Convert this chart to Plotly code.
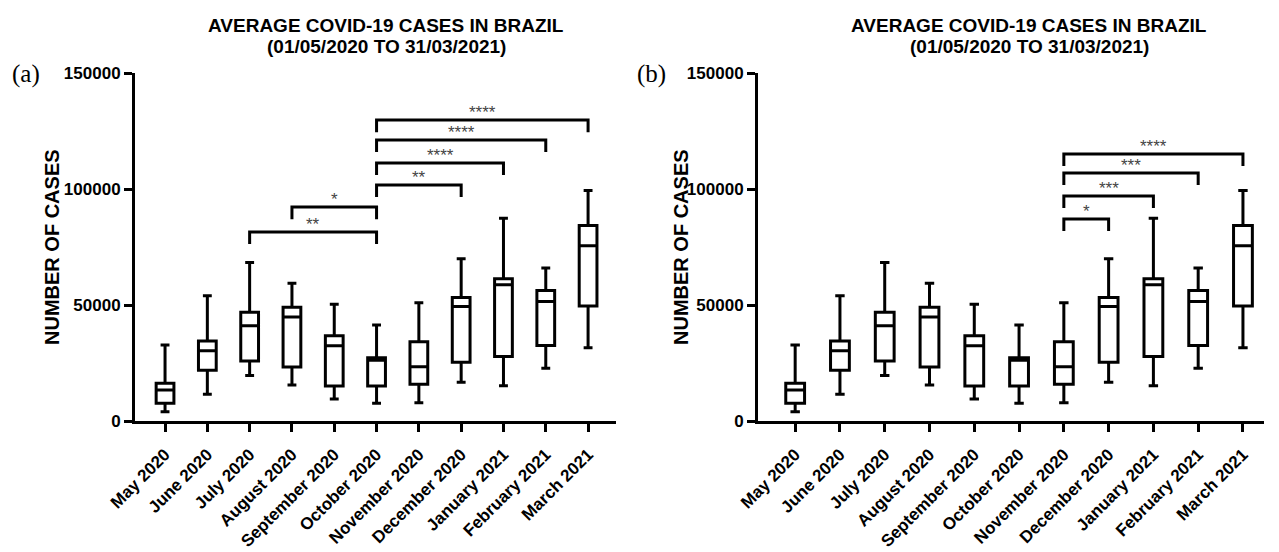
import plotly.graph_objects as go

# ---------------- data ----------------
months = ["May 2020", "June 2020", "July 2020", "August 2020", "September 2020",
          "October 2020", "November 2020", "December 2020", "January 2021",
          "February 2021", "March 2021"]
whisker_low = [4000, 11500, 19600, 15500, 9500, 7600, 7900, 16700, 15200, 22700, 31600]
q1_vals = [7600, 21900, 25900, 23300, 15100, 15100, 15800, 25300, 27800, 32500, 49600]
median_vals = [13400, 30300, 41100, 44800, 32400, 26200, 23400, 49300, 58700, 51500, 75500]
q3_vals = [16250, 34500, 46900, 49000, 36700, 27300, 34200, 53200, 61300, 56200, 84300]
whisker_high = [32800, 54000, 68300, 59400, 50300, 41400, 51000, 69900, 87400, 65900, 99400]

y_ticks = [0, 50000, 100000, 150000]
y_tick_text = ["0", "50000", "100000", "150000"]

# significance comparisons (panel a)
a_from = ["October 2020", "October 2020", "October 2020", "October 2020", "August 2020", "July 2020"]
a_to = ["March 2021", "February 2021", "January 2021", "December 2020", "October 2020", "October 2020"]
a_stars = ["****", "****", "****", "**", "*", "**"]
a_level = [129700, 121100, 111200, 101700, 92200, 81500]

# significance comparisons (panel b)
b_from = ["November 2020", "November 2020", "November 2020", "November 2020"]
b_to = ["March 2021", "February 2021", "January 2021", "December 2020"]
b_stars = ["****", "***", "***", "*"]
b_level = [115100, 106900, 97000, 87100]

title_l1 = "AVERAGE COVID-19 CASES IN BRAZIL"
title_l2 = "(01/05/2020 TO 31/03/2021)"
y_title = "NUMBER OF CASES"

# ---------------- figure ----------------
PAGE_W, PAGE_H = 1279, 552
OFF = 8                      # page body margin of the html page
W, H = PAGE_W - OFF, PAGE_H - OFF
FONT = "Arial, Liberation Sans, Helvetica, sans-serif"
DROP = 5200


def px_x(px):
    return (px - OFF) / W


def px_y(py):
    return 1 - (py - OFF) / H


fig = go.Figure()

for xa, ya in (("x", "y"), ("x2", "y2")):
    fig.add_trace(go.Box(
        x=months, q1=q1_vals, median=median_vals, q3=q3_vals,
        lowerfence=whisker_low, upperfence=whisker_high,
        xaxis=xa, yaxis=ya,
        fillcolor="white", line=dict(color="black", width=3),
        whiskerwidth=0.5, boxpoints=False, showlegend=False,
        hoverinfo="skip",
    ))


def add_brackets(froms, tos, stars, levels, xa, ya):
    for f, t, s, lv in zip(froms, tos, stars, levels):
        fig.add_trace(go.Scatter(
            x=[f, f, t, t], y=[lv - DROP, lv, lv, lv - DROP],
            mode="lines", line=dict(color="black", width=3),
            xaxis=xa, yaxis=ya, showlegend=False, hoverinfo="skip",
        ))
        mid = (months.index(f) + months.index(t)) / 2
        fig.add_annotation(
            x=mid, y=lv, xref=xa, yref=ya, text=s, showarrow=False,
            yanchor="bottom", yshift=-4,
            font=dict(family=FONT, size=17, color="#444"),
        )


add_brackets(a_from, a_to, a_stars, a_level, "x", "y")
add_brackets(b_from, b_to, b_stars, b_level, "x2", "y2")

ydom = [px_y(421), px_y(73)]
dom_a = [px_x(135), px_x(616)]
dom_b = [px_x(758), px_x(1264)]

axis_common = dict(
    showline=True, linecolor="black", linewidth=3, mirror=False,
    ticks="outside", ticklen=8, tickwidth=3, tickcolor="black",
    showgrid=False, zeroline=False, automargin=False,
    tickfont=dict(family=FONT, size=17, color="black", weight="bold"),
)

fig.update_layout(
    width=W, height=H, autosize=False,
    margin=dict(l=0, r=0, t=0, b=0, pad=0, autoexpand=False),
    paper_bgcolor="white", plot_bgcolor="white",
    boxgap=0.4,
    xaxis=dict(domain=dom_a, anchor="y", type="category", categoryorder="array",
               categoryarray=months, range=[-0.71, 10.66], tickangle=-45,
               ticklabelstandoff=6, **axis_common),
    yaxis=dict(domain=ydom, anchor="x", range=[0, 150000], tickvals=y_ticks,
               ticktext=y_tick_text, **axis_common),
    xaxis2=dict(domain=dom_b, anchor="y2", type="category", categoryorder="array",
                categoryarray=months, range=[-0.83, 10.47], tickangle=-45,
                ticklabelstandoff=6, **axis_common),
    yaxis2=dict(domain=ydom, anchor="x2", range=[0, 150000], tickvals=y_ticks,
                ticktext=y_tick_text, **axis_common),
)

# titles, panel letters, y-axis titles
for cx, letter_x, ytx, letter in ((386, 26, 52, "(a)"), (1029, 651, 681, "(b)")):
    fig.add_annotation(x=px_x(cx), y=px_y(25), xref="paper", yref="paper",
                       text="<b>" + title_l1 + "</b>", showarrow=False,
                       xanchor="center", yanchor="middle",
                       font=dict(family=FONT, size=19, color="black"))
    fig.add_annotation(x=px_x(cx), y=px_y(47), xref="paper", yref="paper",
                       text="<b>" + title_l2 + "</b>", showarrow=False,
                       xanchor="center", yanchor="middle",
                       font=dict(family=FONT, size=19, color="black"))
    fig.add_annotation(x=px_x(letter_x), y=px_y(74), xref="paper", yref="paper",
                       text=letter, showarrow=False, xanchor="center", yanchor="middle",
                       font=dict(family="Liberation Serif, Times New Roman, serif",
                                 size=25, color="black"))
    fig.add_annotation(x=px_x(ytx), y=px_y(247), xref="paper", yref="paper",
                       text="<b>" + y_title + "</b>", showarrow=False, textangle=-90,
                       xanchor="center", yanchor="middle",
                       font=dict(family=FONT, size=20, color="black"))

fig.write_html("out.html")
